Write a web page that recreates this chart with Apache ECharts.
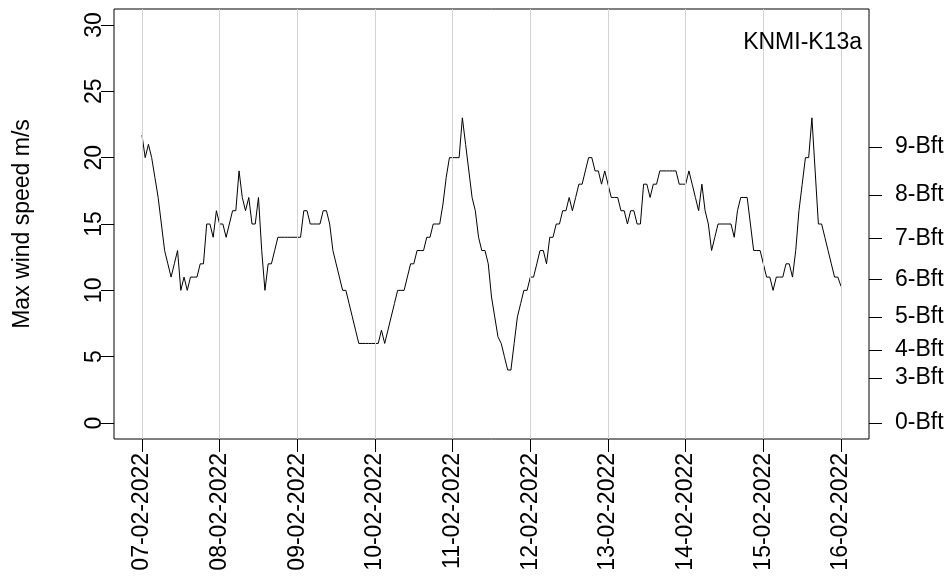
<!DOCTYPE html>
<html>
<head>
<meta charset="utf-8">
<script src="https://cdn.jsdelivr.net/npm/echarts@6/dist/echarts.min.js"></script>
<style>
  html, body { margin: 0; padding: 0; background: #fff; }
  #chart { width: 948px; height: 583px; }
</style>
</head>
<body>
<div id="chart"></div>
<script>
// hourly max wind speed, KNMI-K13a, 07-02-2022 00:00 .. 16-02-2022 00:00
var speeds = [
  21.7, 20, 21, 20, 18.5, 17, 15, 13, 12, 11, 12, 13, 10, 11, 10, 11, 11, 11, 12, 12, 15, 15, 14, 16,
  15, 15, 14, 15, 16, 16, 19, 17, 16, 17, 15, 15, 17, 13, 10, 12, 12, 13, 14, 14, 14, 14, 14, 14,
  14, 14, 16, 16, 15, 15, 15, 15, 16, 16, 15, 13, 12, 11, 10, 10, 9, 8, 7, 6, 6, 6, 6, 6,
  6, 6, 7, 6, 7, 8, 9, 10, 10, 10, 11, 12, 12, 13, 13, 13, 14, 14, 15, 15, 15, 16.5, 18.5, 20,
  20, 20, 20, 23, 21, 19, 17, 16, 14, 13, 13, 12, 9.5, 8, 6.5, 6, 5, 4, 4, 6, 8, 9, 10, 10,
  11, 11, 12, 13, 13, 12, 14, 14, 15, 15, 16, 16, 17, 16, 17, 18, 18, 19, 20, 20, 19, 19, 18, 19,
  18, 17, 17, 17, 16, 16, 15, 16, 16, 15, 15, 18, 18, 17, 18, 18, 19, 19, 19, 19, 19, 19, 18, 18,
  18, 19, 18, 17, 16, 18, 16, 15, 13, 14, 15, 15, 15, 15, 15, 14, 16, 17, 17, 17, 15, 13, 13, 13,
  12, 11, 11, 10, 11, 11, 11, 12, 12, 11, 13, 16, 18, 20, 20, 23, 19, 15, 15, 14, 13, 12, 11, 11,
  10.3
];
var dayLabels = ["07-02-2022", "08-02-2022", "09-02-2022", "10-02-2022", "11-02-2022",
                 "12-02-2022", "13-02-2022", "14-02-2022", "15-02-2022", "16-02-2022"];
var dayHours = [0, 24, 48, 72, 96, 120, 144, 168, 192, 216];
var yTicks = [0, 5, 10, 15, 20, 25, 30];
var bftSpeeds = [0, 3.4, 5.5, 8.0, 10.8, 13.9, 17.2, 20.8];
var bftLabels = ["0-Bft", "3-Bft", "4-Bft", "5-Bft", "6-Bft", "7-Bft", "8-Bft", "9-Bft"];

var FONT = '"Liberation Sans", Arial, sans-serif';
var FS = 23;

var chart = echarts.init(document.getElementById("chart"), null, { renderer: "canvas" });

var option = {
  animation: false,
  backgroundColor: "#fff",
  textStyle: { fontFamily: FONT, color: "#000" },
  title: {
    text: "KNMI-K13a",
    right: 81,
    top: 26,
    textStyle: { fontFamily: FONT, fontSize: FS, fontWeight: "normal", color: "#000" }
  },
  grid: {
    left: 114,
    right: 79,
    top: 9,
    bottom: 144,
    show: true,
    borderColor: "#000",
    borderWidth: 1,
    backgroundColor: "transparent"
  },
  xAxis: {
    type: "value",
    min: -8.64,
    max: 224.64,
    axisLine: { show: false, onZero: false },
    splitLine: { show: false },
    axisTick: {
      show: true,
      length: 13,
      customValues: dayHours,
      lineStyle: { color: "#000" }
    },
    axisLabel: {
      customValues: dayHours,
      rotate: 90,
      margin: 14,
      fontFamily: FONT,
      fontSize: FS,
      color: "#000",
      formatter: function (v) {
        return dayLabels[dayHours.indexOf(Math.round(v))];
      }
    }
  },
  yAxis: [
    {
      type: "value",
      position: "left",
      min: -1.2,
      max: 31.2,
      name: "Max wind speed m/s",
      nameLocation: "middle",
      nameRotate: 90,
      nameGap: 80,
      nameTextStyle: { fontFamily: FONT, fontSize: FS, color: "#000" },
      axisLine: { show: false, onZero: false },
      splitLine: { show: false },
      axisTick: {
        show: true,
        length: 13,
        customValues: yTicks,
        lineStyle: { color: "#000" }
      },
      axisLabel: {
        customValues: yTicks,
        rotate: 90,
        margin: 8,
        fontFamily: FONT,
        fontSize: FS,
        color: "#000"
      }
    },
    {
      type: "value",
      position: "right",
      min: -1.2,
      max: 31.2,
      axisLine: { show: false, onZero: false },
      splitLine: { show: false },
      axisTick: {
        show: true,
        length: 13,
        customValues: bftSpeeds,
        lineStyle: { color: "#000" }
      },
      axisLabel: {
        customValues: bftSpeeds,
        margin: 26,
        fontFamily: FONT,
        fontSize: FS,
        color: "#000",
        formatter: function (v) {
          for (var i = 0; i < bftSpeeds.length; i++) {
            if (Math.abs(bftSpeeds[i] - v) < 1e-6) return bftLabels[i];
          }
          return "";
        }
      }
    }
  ],
  series: [
    {
      // vertical day gridlines
      type: "line",
      data: [],
      z: 1,
      silent: true,
      markLine: {
        silent: true,
        symbol: ["none", "none"],
        label: { show: false },
        lineStyle: { color: "#d3d3d3", type: "solid", width: 1 },
        data: dayHours.map(function (h) { return { xAxis: h }; })
      }
    },
    {
      name: "Max wind speed",
      type: "line",
      z: 3,
      showSymbol: false,
      symbol: "none",
      lineStyle: { color: "#000", width: 1 },
      data: speeds.map(function (v, i) { return [i, v]; })
    }
  ]
};

chart.setOption(option);
</script>
</body>
</html>
